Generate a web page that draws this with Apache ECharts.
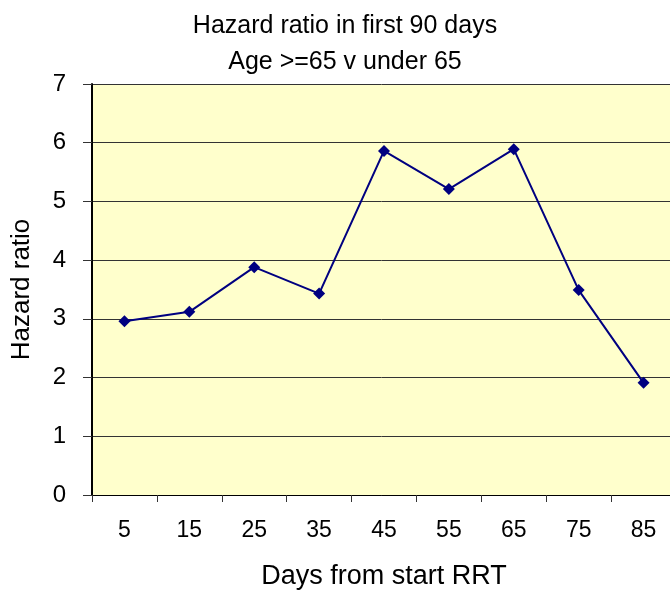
<!DOCTYPE html>
<html>
<head>
<meta charset="utf-8">
<script src="https://cdn.jsdelivr.net/npm/echarts@6/dist/echarts.min.js"></script>
<style>
  html, body { margin: 0; padding: 0; background: #fff; }
  #chart { width: 670px; height: 591px; }
</style>
</head>
<body>
<div id="chart"></div>
<script>
// chart data
var days = ['5', '15', '25', '35', '45', '55', '65', '75', '85'];
var hazardRatio = [2.96, 3.12, 3.88, 3.43, 5.86, 5.21, 5.89, 3.49, 1.91];

var chart = echarts.init(document.getElementById('chart'));

var option = {
    animation: false,
    textStyle: { fontFamily: 'Liberation Sans, Arial, sans-serif' },
    title: {
        text: 'Hazard ratio in first 90 days\nAge >=65 v under 65',
        left: 340,
        textAlign: 'center',
        top: 3,
        textStyle: {
            fontSize: 25,
            fontWeight: 'normal',
            color: '#000',
            lineHeight: 36
        }
    },
    grid: {
        left: 92,
        top: 84,
        width: 584,
        height: 411,
        containLabel: false,
        outerBoundsMode: 'none',
        show: true,
        backgroundColor: '#FFFFCC',
        borderWidth: 0
    },
    xAxis: {
        type: 'category',
        data: days,
        boundaryGap: true,
        name: 'Days from start RRT',
        nameLocation: 'middle',
        nameGap: 68,
        nameTextStyle: { fontSize: 27, color: '#000' },
        axisLine: { show: true, lineStyle: { color: '#000', width: 1 } },
        axisTick: { show: true, alignWithLabel: false, length: 7, lineStyle: { color: '#333' } },
        axisLabel: { fontSize: 23, color: '#000', margin: 24 },
        splitLine: { show: false }
    },
    yAxis: {
        type: 'value',
        min: 0,
        max: 7,
        interval: 1,
        name: 'Hazard ratio',
        nameLocation: 'middle',
        nameRotate: 90,
        nameGap: 57,
        nameTextStyle: { fontSize: 26, color: '#000' },
        axisLine: { show: true, lineStyle: { color: '#000', width: 2 } },
        axisTick: { show: true, length: 9, lineStyle: { color: '#333' } },
        axisLabel: { fontSize: 24, color: '#000', margin: 26 },
        splitLine: { show: true, lineStyle: { color: '#333', width: 1 } }
    },
    series: [
        {
            name: 'Hazard ratio',
            type: 'line',
            data: hazardRatio,
            symbol: 'diamond',
            symbolSize: 12,
            lineStyle: { color: '#000080', width: 2 },
            itemStyle: { color: '#000080' }
        }
    ]
};
chart.setOption(option);
</script>
</body>
</html>
